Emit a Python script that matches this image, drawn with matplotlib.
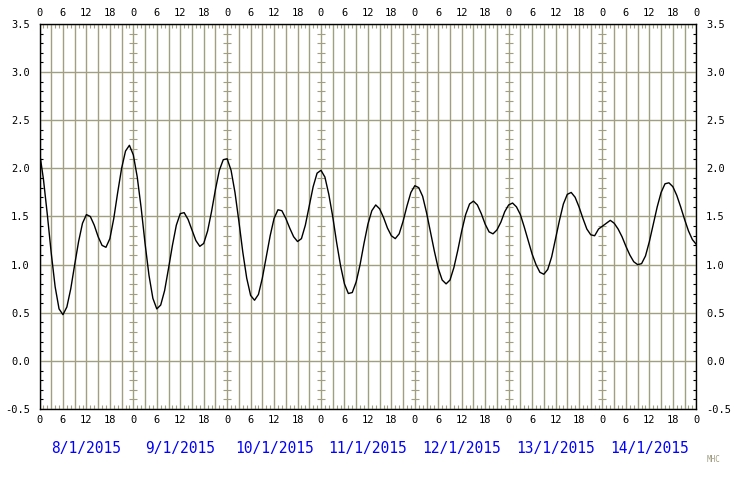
import matplotlib
matplotlib.use("Agg")
import matplotlib.pyplot as plt
from matplotlib.ticker import MultipleLocator, FuncFormatter
import matplotlib.transforms as mtrans

# hourly tide heights, starting 8/1/2015 00:00
heights = [
    2.17, 1.89, 1.52, 1.12, 0.77, 0.54, 0.48, 0.56, 0.75, 1.00, 1.24, 1.43, 1.52, 1.50, 1.41, 1.29, 1.20, 1.18, 1.27, 1.48, 1.75, 2.00, 2.18, 2.24,
    2.14, 1.91, 1.59, 1.22, 0.89, 0.65, 0.54, 0.58, 0.73, 0.96, 1.20, 1.41, 1.53, 1.54, 1.47, 1.36, 1.25, 1.19, 1.22, 1.35, 1.55, 1.78, 1.98, 2.09,
    2.10, 1.98, 1.75, 1.45, 1.13, 0.86, 0.68, 0.63, 0.69, 0.86, 1.08, 1.30, 1.48, 1.57, 1.56, 1.48, 1.38, 1.29, 1.24, 1.27, 1.41, 1.61, 1.81, 1.95,
    1.98, 1.91, 1.73, 1.50, 1.23, 0.99, 0.80, 0.70, 0.71, 0.82, 1.00, 1.22, 1.42, 1.56, 1.62, 1.58, 1.49, 1.38, 1.30, 1.27, 1.32, 1.45, 1.61, 1.75,
    1.82, 1.80, 1.71, 1.54, 1.34, 1.14, 0.96, 0.84, 0.80, 0.84, 0.97, 1.15, 1.35, 1.52, 1.63, 1.66, 1.62, 1.53, 1.42, 1.34, 1.32, 1.36, 1.44, 1.55,
    1.62, 1.64, 1.60, 1.52, 1.39, 1.25, 1.11, 1.00, 0.92, 0.90, 0.95, 1.08, 1.27, 1.46, 1.63, 1.73, 1.75, 1.70, 1.60, 1.48, 1.37, 1.31, 1.30, 1.37,
    1.40, 1.43, 1.46, 1.43, 1.37, 1.29, 1.19, 1.10, 1.03, 1.00, 1.01, 1.09, 1.24, 1.42, 1.60, 1.75, 1.84, 1.85, 1.81, 1.72, 1.60, 1.47, 1.35, 1.26,
    1.21,
]
hours = list(range(len(heights)))
dates = ["8/1/2015", "9/1/2015", "10/1/2015", "11/1/2015", "12/1/2015", "13/1/2015", "14/1/2015"]

GRID = "#a0a080"
mono = "DejaVu Sans Mono"

fig = plt.figure(figsize=(7.4, 4.8), dpi=100)
ax = fig.add_axes([39.5 / 740, 1 - 409 / 480, (696.3 - 39.5) / 740, (409 - 24) / 480])
ax.set_xlim(0, 168)
ax.set_ylim(-0.5, 3.5)

ax.xaxis.set_major_locator(MultipleLocator(3))
ax.xaxis.set_minor_locator(MultipleLocator(1))
ax.xaxis.set_major_formatter(FuncFormatter(lambda v, p: str(int(round(v)) % 24) if int(round(v)) % 6 == 0 else ""))
ax.yaxis.set_major_locator(MultipleLocator(0.5))
ax.yaxis.set_minor_locator(MultipleLocator(0.1))
ax.yaxis.set_major_formatter(FuncFormatter(lambda v, p: f"{v:.1f}"))

ax.grid(True, which="major", color=GRID, linewidth=1.0)
ax.set_axisbelow(True)

ax.tick_params(axis="x", which="major", length=0, top=True, labeltop=True, bottom=True, labelbottom=True, pad=4, labelsize=7.5)
ax.tick_params(axis="x", which="minor", direction="in", length=3, width=0.8, color=GRID, top=True, bottom=True)
ax.tick_params(axis="y", which="major", length=0, left=True, right=True, labelleft=True, labelright=True, labelsize=7.5, pad=7)
ax.tick_params(axis="y", which="minor", direction="in", length=2.5, width=0.8, color="black", left=True, right=True)
for t in ax.yaxis.get_major_ticks() + ax.xaxis.get_major_ticks():
    t.label1.set_family(mono)
    t.label2.set_family(mono)

for s in ax.spines.values():
    s.set_color("black")
    s.set_linewidth(1.0)

# small crossing marks on each day boundary line (every 0.1 between grid lines)
ys = [round(-0.5 + 0.1 * i, 1) for i in range(41) if i % 5 != 0]
for d in range(1, 7):
    ax.plot([24 * d] * len(ys), ys, linestyle="none", marker="_", markersize=5.5,
            markeredgewidth=0.8, color=GRID, zorder=1.5)

ax.plot(hours, heights, color="black", linewidth=1.0, zorder=3)

tr = mtrans.blended_transform_factory(ax.transData, fig.transFigure)
for i, d in enumerate(dates):
    ax.text(24 * i + 12, 1 - 448 / 480, d, transform=tr, ha="center", va="center",
            color="#0000ff", fontsize=10.5, family=mono)
fig.text(714 / 740, 1 - 460 / 480, "MHC", ha="center", va="center", color="#a09c80", fontsize=5.5, family=mono)

fig.savefig("out.png", dpi=100)
